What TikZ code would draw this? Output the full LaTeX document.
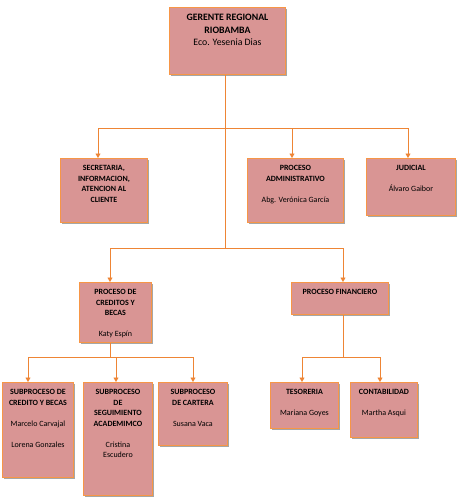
\documentclass[tikz,border=0pt]{standalone}
\usepackage{fontspec}
\setmainfont{Carlito}
\usetikzlibrary{shadows,arrows.meta}
\definecolor{boxfill}{HTML}{D99594}
\definecolor{boxline}{HTML}{F79646}
\definecolor{connline}{HTML}{EE8535}
\tikzset{
  orgbox/.style={draw=boxline, fill=boxfill, line width=0.9pt, inner sep=0pt, anchor=north west,
    drop shadow={shadow xshift=2pt, shadow yshift=-2pt, fill=black, opacity=0.35}},
  boxtext/.style={anchor=north, inner sep=0pt, align=center, font=\fontsize{8}{10.5}\selectfont},
  toptext/.style={anchor=north, inner sep=0pt, align=center, font=\fontsize{9.8}{12.5}\selectfont},
  conn/.style={draw=connline, line width=0.9pt},
  arr/.style={conn, -{Triangle[width=5pt,length=4.5pt]}},
}
\newcommand\mkbox[5]{\node[orgbox, minimum width={(#4-#2)*1pt}, minimum height={(#5-#3)*1pt}] (#1) at (#2,#3) {};}
\begin{document}
\begin{tikzpicture}[x=1pt,y=-1pt]
\fill[white] (0,0) rectangle (457,498);
\useasboundingbox (0,0) rectangle (457,498);
% boxes
\mkbox{top}{169}{7}{285}{74}
\mkbox{sec}{60}{158}{147}{222}
\mkbox{adm}{247}{158}{343}{222}
\mkbox{jud}{366}{158}{455}{215}
\mkbox{cred}{79}{282}{151}{342}
\mkbox{fin}{291}{282}{388}{314}
\mkbox{sc}{2}{382}{73}{477}
\mkbox{seg}{83}{382}{152}{495}
\mkbox{cart}{158}{382}{227}{445}
\mkbox{tes}{270}{382}{338}{428}
\mkbox{cont}{350}{382}{417}{437}
% texts
\node[toptext] (ttop) at ([yshift=-7.3pt]top.north) {\textbf{GERENTE REGIONAL}\\\textbf{RIOBAMBA}\\Eco. Yesenia Dias};
\node[boxtext] (tsec) at ([yshift=-7.3pt]sec.north) {\textbf{SECRETARIA,}\\\textbf{INFORMACION,}\\\textbf{ATENCION AL}\\\textbf{CLIENTE}};
\node[boxtext] (tadm) at ([yshift=-7.3pt]adm.north) {\textbf{PROCESO}\\\textbf{ADMINISTRATIVO}\\[10.5pt]Abg. Verónica García};
\node[boxtext] (tjud) at ([yshift=-7.3pt]jud.north) {\textbf{JUDICIAL}\\[10.5pt]Álvaro Gaibor};
\node[boxtext] (tcred) at ([yshift=-7.3pt]cred.north) {\textbf{PROCESO DE}\\\textbf{CREDITOS Y}\\\textbf{BECAS}\\[10.5pt]Katy Espín};
\node[boxtext] (tfin) at ([yshift=-7.3pt]fin.north) {\textbf{PROCESO FINANCIERO}};
\node[boxtext] (tsc) at ([yshift=-7.3pt]sc.north) {\textbf{SUBPROCESO DE}\\\textbf{CREDITO Y BECAS}\\[10.5pt]Marcelo Carvajal\\[10.5pt]Lorena Gonzales};
\node[boxtext] (tseg) at ([yshift=-7.3pt]seg.north) {\textbf{SUBPROCESO}\\\textbf{DE}\\\textbf{SEGUIMIENTO}\\\textbf{ACADEMIMCO}\\[10.5pt]Cristina\\Escudero};
\node[boxtext] (tcart) at ([yshift=-7.3pt]cart.north) {\textbf{SUBPROCESO}\\\textbf{DE CARTERA}\\[10.5pt]Susana Vaca};
\node[boxtext] (ttes) at ([yshift=-7.3pt]tes.north) {\textbf{TESORERIA}\\[10.5pt]Mariana Goyes};
\node[boxtext] (tcont) at ([yshift=-7.3pt]cont.north) {\textbf{CONTABILIDAD}\\[10.5pt]Martha Asqui};
% junction coordinates
\coordinate (trunk) at (225,248);
\coordinate (b1l) at (98,128);
\coordinate (b1m) at (292,128);
\coordinate (b1r) at (408,128);
\coordinate (b2l) at (110,248);
\coordinate (b2r) at (343,248);
\coordinate (b3l) at (28,357);
\coordinate (b3m) at (116,357);
\coordinate (b3r) at (193,357);
\coordinate (b4l) at (302,357);
\coordinate (b4r) at (380,357);
% connectors
\draw[conn] (top.south -| trunk) -- (trunk);
\draw[conn] (b1l) -- (b1r);
\draw[arr] (b1l) -- (sec.north -| b1l);
\draw[arr] (b1m) -- (adm.north -| b1m);
\draw[arr] (b1r) -- (jud.north -| b1r);
\draw[conn] (b2l) -- (b2r);
\draw[arr] (b2l) -- (cred.north -| b2l);
\draw[arr] (b2r) -- (fin.north -| b2r);
\draw[conn] (cred.south -| b2l) -- (b3l -| b2l);
\draw[conn] (b3l) -- (b3r);
\draw[arr] (b3l) -- (sc.north -| b3l);
\draw[arr] (b3m) -- (seg.north -| b3m);
\draw[arr] (b3r) -- (cart.north -| b3r);
\draw[conn] (fin.south -| b2r) -- (b4l -| b2r);
\draw[conn] (b4l) -- (b4r);
\draw[arr] (b4l) -- (tes.north -| b4l);
\draw[arr] (b4r) -- (cont.north -| b4r);
\end{tikzpicture}
\end{document}
